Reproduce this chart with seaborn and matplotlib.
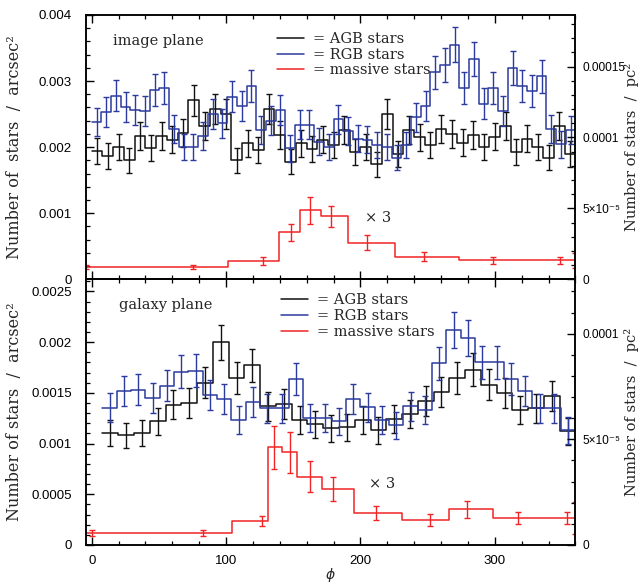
import numpy as np
import pandas as pd
import matplotlib
matplotlib.use("Agg")
import matplotlib.pyplot as plt
from matplotlib.lines import Line2D
from matplotlib.ticker import MultipleLocator, FuncFormatter
import seaborn as sns

# ---------------------------------------------------------------------------
# Azimuthal profiles of stellar surface density (phi in degrees).
# Densities are listed in units of 1e-3 stars / arcsec^2.
# ---------------------------------------------------------------------------
DENSITY_UNIT = 1e-3

# image plane: AGB and RGB histograms on regular bins
img_agb_range = (0.0, 360.0)
img_agb = [1.94, 1.87, 2.00, 1.80, 2.17, 1.99, 2.17, 2.11, 2.21, 2.71,
           2.32, 2.57, 2.50, 1.80, 2.06, 1.95, 2.58, 2.18, 1.78, 2.06,
           1.97, 2.11, 2.03, 2.26, 1.93, 2.00, 1.74, 2.50, 1.90, 2.26,
           2.15, 2.03, 2.28, 2.20, 2.07, 2.18, 2.00, 2.16, 2.32, 1.93,
           2.13, 2.00, 1.84, 2.32, 1.90]
img_rgb_range = (0.0, 360.0)
img_rgb = [2.38, 2.53, 2.78, 2.61, 2.56, 2.55, 2.86, 2.89, 2.27, 2.00,
           2.00, 2.17, 2.50, 2.36, 2.76, 2.62, 2.92, 2.26, 2.40, 2.56,
           1.98, 2.34, 2.34, 2.08, 2.00, 2.42, 2.25, 2.13, 2.11, 2.03,
           2.00, 1.84, 2.03, 2.45, 2.62, 3.13, 3.24, 3.55, 2.90, 3.33,
           2.66, 2.90, 2.55, 3.20, 2.92, 2.85, 3.07, 2.28, 2.04, 2.26]

# image plane: massive stars on variable-width bins (true values, shown x3)
img_massive_edges = [-5.0, 101.7, 139.0, 155.0, 170.5, 191.0, 226.0, 273.0, 360.0]
img_massive = [0.062, 0.092, 0.237, 0.348, 0.318, 0.185, 0.113, 0.096]
img_massive_phi = [-4.0, 75.7, 127.3, 148.0, 162.5, 178.0, 204.6, 247.0, 298.3, 348.7, 359.6]
img_massive_at = [0.062, 0.062, 0.092, 0.237, 0.348, 0.318, 0.185, 0.113, 0.096, 0.096, 0.096]
img_massive_err = [0.010, 0.008, 0.020, 0.043, 0.067, 0.053, 0.037, 0.023, 0.018, 0.018, 0.037]

# galaxy plane: AGB and RGB histograms on regular bins
gal_agb_range = (8.0, 360.0)
gal_agb = [1.10, 1.08, 1.10, 1.22, 1.385, 1.40, 1.60, 2.00, 1.65, 1.77,
           1.37, 1.39, 1.23, 1.19, 1.15, 1.16, 1.23, 1.13, 1.24, 1.29,
           1.42, 1.51, 1.65, 1.73, 1.58, 1.50, 1.33, 1.35, 1.47, 1.12]
gal_rgb_range = (8.0, 360.0)
gal_rgb = [1.355, 1.52, 1.53, 1.45, 1.57, 1.71, 1.72, 1.48, 1.44, 1.23,
           1.41, 1.35, 1.35, 1.64, 1.25, 1.25, 1.22, 1.44, 1.36, 1.23,
           1.18, 1.37, 1.33, 1.79, 2.12, 2.04, 1.80, 1.80, 1.64, 1.52,
           1.35, 1.35, 1.13]

# galaxy plane: massive stars (true values, shown x3)
gal_massive_edges = [-5.0, 104.7, 131.5, 141.9, 153.1, 171.0, 195.3, 230.9, 265.6, 298.4, 360.0]
gal_massive = [0.039, 0.078, 0.321, 0.305, 0.225, 0.185, 0.105, 0.082, 0.117, 0.089]
gal_massive_phi = [0.0, 83.0, 126.5, 136.0, 147.5, 162.4, 179.6, 211.7, 251.4, 279.2, 316.9, 353.6, 360.0]
gal_massive_at = [0.039, 0.039, 0.078, 0.321, 0.305, 0.225, 0.185, 0.105, 0.082, 0.117, 0.089, 0.089, 0.089]
gal_massive_err = [0.009, 0.009, 0.017, 0.071, 0.067, 0.050, 0.040, 0.022, 0.020, 0.027, 0.020, 0.020, 0.053]

MASSIVE_SCALE = 3

# density contributed by a single star (for Poisson error bars)
IMG_DENSITY_PER_STAR = 2.0e-5
GAL_DENSITY_PER_STAR = 1.5e-5

# conversion arcsec^-2 -> pc^-2 for the right-hand axes
IMG_PC2_FACTOR = 0.0466
GAL_PC2_FACTOR = 0.0480

COL_AGB = "#111111"
COL_RGB = "#2b3a9e"
COL_MASSIVE = "#f02424"

SERIF = ["DejaVu Serif"]
TEXT_SIZE = 10.5
LABEL_SIZE = 11.5
RIGHT_LABEL_SIZE = 10.5

sns.set_theme(style="ticks")
plt.rcParams.update({
    "font.family": ["Liberation Sans", "DejaVu Sans"],
    "xtick.direction": "in", "ytick.direction": "in",
    "xtick.top": True, "xtick.bottom": True,
    "xtick.major.size": 6, "ytick.major.size": 6,
    "xtick.minor.size": 3, "ytick.minor.size": 3,
    "xtick.major.width": 1.0, "ytick.major.width": 1.0,
    "xtick.minor.width": 0.9, "ytick.minor.width": 0.9,
    "xtick.color": "black", "ytick.color": "black",
    "axes.edgecolor": "black", "axes.linewidth": 1.1,
    "xtick.labelsize": 9.5, "ytick.labelsize": 9.5,
})


def draw_steps(ax, edges, values, color):
    edges = np.asarray(edges, dtype=float)
    vals = np.asarray(values, dtype=float)
    df = pd.DataFrame({"phi": edges, "density": np.append(vals, vals[-1])})
    sns.lineplot(data=df, x="phi", y="density", ax=ax, color=color,
                 drawstyle="steps-post", estimator=None, sort=False,
                 linewidth=1.1, legend=False)


def regular_histogram(ax, phi_range, values, per_star, color):
    vals = np.asarray(values) * DENSITY_UNIT
    edges = np.linspace(phi_range[0], phi_range[1], len(vals) + 1)
    centers = 0.5 * (edges[:-1] + edges[1:])
    draw_steps(ax, edges, vals, color)
    ax.errorbar(centers, vals, yerr=np.sqrt(vals * per_star), fmt="none",
                ecolor=color, elinewidth=1.0, capsize=2.2, capthick=1.0)


def massive_histogram(ax, edges, values, phi, at, err):
    vals = MASSIVE_SCALE * np.asarray(values) * DENSITY_UNIT
    draw_steps(ax, edges, vals, COL_MASSIVE)
    ax.errorbar(phi, MASSIVE_SCALE * np.asarray(at) * DENSITY_UNIT,
                yerr=MASSIVE_SCALE * np.asarray(err) * DENSITY_UNIT,
                fmt="none", ecolor=COL_MASSIVE, elinewidth=1.0,
                capsize=2.2, capthick=1.0, clip_on=True)


def left_fmt(v, pos):
    return "0" if abs(v) < 1e-12 else f"{v:g}"


def right_fmt(v, pos):
    if abs(v) < 1e-12:
        return "0"
    if abs(v - 5e-5) < 1e-9:
        return "5×10⁻⁵"
    return f"{v:g}"


def style_axes(ax, ymax, ymajor, yminor, pc2_factor, ylabel, show_xlabels):
    ax.set_xlim(-4.5, 360)
    ax.set_ylim(0, ymax)
    ax.xaxis.set_major_locator(MultipleLocator(100))
    ax.xaxis.set_minor_locator(MultipleLocator(20))
    ax.yaxis.set_major_locator(MultipleLocator(ymajor))
    ax.yaxis.set_minor_locator(MultipleLocator(yminor))
    ax.yaxis.set_major_formatter(FuncFormatter(left_fmt))
    ax.tick_params(axis="y", which="both", left=True, right=False, pad=10)
    ax.tick_params(axis="x", which="both", top=True, bottom=True, pad=7,
                   labelbottom=show_xlabels)
    ax.set_xlabel("")
    ax.set_ylabel(ylabel, fontsize=LABEL_SIZE, family=SERIF)
    ax.yaxis.set_label_coords(-0.128, 0.5)

    twin = ax.twinx()
    twin.set_ylim(0, ymax * pc2_factor)
    twin.yaxis.set_major_locator(MultipleLocator(5e-5))
    twin.yaxis.set_minor_locator(MultipleLocator(1e-5))
    twin.yaxis.set_major_formatter(FuncFormatter(right_fmt))
    twin.tick_params(axis="y", which="both", right=True, left=False,
                     direction="in", pad=5, labelsize=8.6)
    twin.set_ylabel("Number of stars  /  pc²", fontsize=RIGHT_LABEL_SIZE,
                    family=SERIF)
    twin.yaxis.set_label_coords(1.099, 0.5)
    return twin


def add_legend(ax, x, y):
    handles = [Line2D([], [], color=COL_AGB, lw=1.1),
               Line2D([], [], color=COL_RGB, lw=1.1),
               Line2D([], [], color=COL_MASSIVE, lw=1.1)]
    labels = ["= AGB stars", "= RGB stars", "= massive stars"]
    ax.legend(handles, labels, loc="upper left", bbox_to_anchor=(x, y),
              frameon=False, borderpad=0, borderaxespad=0,
              handlelength=1.9, handletextpad=0.6, labelspacing=0.12,
              prop={"family": SERIF, "size": TEXT_SIZE})


fig = plt.figure(figsize=(6.41, 5.87), dpi=100)
ax_top = fig.add_axes([0.1337, 0.5242, 0.7641, 0.4503])
ax_bot = fig.add_axes([0.1337, 0.0716, 0.7641, 0.4526])

# --- image plane -----------------------------------------------------------
regular_histogram(ax_top, img_agb_range, img_agb, IMG_DENSITY_PER_STAR, COL_AGB)
regular_histogram(ax_top, img_rgb_range, img_rgb, IMG_DENSITY_PER_STAR, COL_RGB)
massive_histogram(ax_top, img_massive_edges, img_massive,
                  img_massive_phi, img_massive_at, img_massive_err)
style_axes(ax_top, 0.004, 0.001, 0.0002, IMG_PC2_FACTOR,
           "Number of  stars  /  arcsec²", show_xlabels=False)
ax_top.text(15.9, 0.0036, "image plane", ha="left", va="center",
            fontsize=TEXT_SIZE, family=SERIF)
ax_top.text(203.5, 0.00092, "× 3", ha="left", va="center",
            fontsize=TEXT_SIZE, family=SERIF)
add_legend(ax_top, 0.39, 0.936)

# --- galaxy plane ----------------------------------------------------------
regular_histogram(ax_bot, gal_agb_range, gal_agb, GAL_DENSITY_PER_STAR, COL_AGB)
regular_histogram(ax_bot, gal_rgb_range, gal_rgb, GAL_DENSITY_PER_STAR, COL_RGB)
massive_histogram(ax_bot, gal_massive_edges, gal_massive,
                  gal_massive_phi, gal_massive_at, gal_massive_err)
style_axes(ax_bot, 0.00262, 0.0005, 0.0001, GAL_PC2_FACTOR,
           "Number of stars  /  arcsec²", show_xlabels=True)
ax_bot.text(20.3, 0.00237, "galaxy plane", ha="left", va="center",
            fontsize=TEXT_SIZE, family=SERIF)
ax_bot.text(206.0, 0.00060, "× 3", ha="left", va="center",
            fontsize=TEXT_SIZE, family=SERIF)
add_legend(ax_bot, 0.398, 0.948)
ax_bot.set_xlabel(r"$\phi$", fontsize=10)
ax_bot.xaxis.set_label_coords(0.5, -0.078)

fig.savefig("out.png", dpi=100)
